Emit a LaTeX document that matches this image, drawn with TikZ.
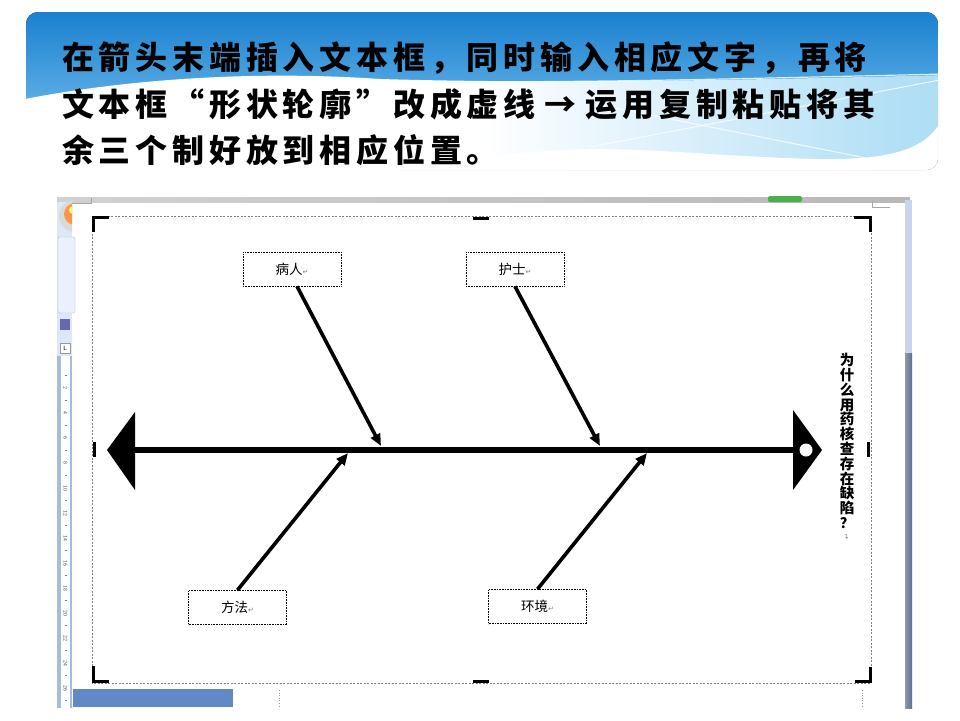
\documentclass[tikz,border=0pt]{standalone}
\usepackage{fontspec}
\newfontfamily\cjk{Noto Sans CJK SC}
\newfontfamily\cjktitle[LetterSpace=15]{Noto Sans CJK SC}
\newfontfamily\symfont{DejaVu Sans}
\usetikzlibrary{arrows.meta}
\definecolor{bannerTop}{HTML}{1A80D0}
\definecolor{bannerBot}{HTML}{8DD0F3}
\definecolor{waveA}{HTML}{B4E0F6}
\definecolor{waveB}{HTML}{7CC5EE}
\definecolor{ribbonBlue}{HTML}{DCE8F6}
\definecolor{ribbonEdge}{HTML}{A9C0DE}
\definecolor{rulerEdge}{HTML}{A3BCE0}
\definecolor{sidePanel}{HTML}{C6D6EC}
\definecolor{scrollDark}{HTML}{5E6E8C}
\definecolor{statusBlue}{HTML}{6089C6}
\pgfdeclarehorizontalshading{waveshade}{100bp}{color(0bp)=(white); color(50bp)=(white); color(72bp)=(waveA); color(100bp)=(waveB)}
\newcommand\retmark{\textcolor{gray}{\symfont\fontsize{7}{7}\selectfont ↵}}
\newcommand\titleA{在箭头末端插入文本框，同时输入相应文字，再将}
\newcommand\titleB{文本框“形状轮廓”改成虚线\hspace{9pt}→\hspace{9pt}运用复制粘贴将其}
\newcommand\titleC{余三个制好放到相应位置。}
\begin{document}
\begin{tikzpicture}[x=1pt,y=-1pt,
  titletext/.style={anchor=west, inner sep=0pt, font=\cjktitle\bfseries\fontsize{32}{36}\selectfont},
  labelbox/.style={draw=black, line width=0.8pt, dash pattern=on 0.8pt off 0.8pt,
    minimum width=98pt, minimum height=34pt, inner sep=0pt,
    font=\cjk\fontsize{13.5}{13.5}\selectfont},
  bone/.style={line width=3.6pt, -{Triangle[length=12pt,width=10pt]}},
  spine/.style={line width=5.5pt},
  handle/.style={line width=3pt},
  canvasline/.style={draw=gray, line width=0.6pt, dash pattern=on 2pt off 1.5pt},
  vlabel/.style={align=center, inner sep=0pt, font=\cjk\bfseries\fontsize{14.5}{14.8}\selectfont},
  rulernum/.style={font=\sffamily\fontsize{5.5}{5.5}\selectfont, text=black!70, rotate=-90, inner sep=0pt},
  waveline/.style={white, opacity=0.8, line width=1pt}
]
\useasboundingbox (0,0) rectangle (960,720);
\fill[white] (0,0) rectangle (960,720);

% ---------- banner ----------
\begin{scope}
  \clip[rounded corners=12pt] (26,12) rectangle (938,170);
  \fill[top color=bannerTop, bottom color=bannerBot] (26,12) rectangle (938,170);
  \shade[shading=waveshade]
    (20,100) .. controls (120,80) and (250,70) .. (380,79)
    .. controls (550,84) and (750,80) .. (945,75) -- (945,175) -- (20,175) -- cycle;
  \fill[white] (945,112) .. controls (932,150) and (890,160) .. (820,159)
    .. controls (720,157) and (640,146) .. (560,150)
    .. controls (500,154) and (440,164) .. (380,172) -- (380,175) -- (945,175) -- cycle;
  \draw[waveline, line width=1.2pt] (306,82) .. controls (600,82) .. (945,74);
  \draw[waveline] (590,147) -- (945,79);
  \draw[waveline] (600,105) -- (866,158);
\end{scope}
\fill[white] (20,164) rectangle (400,176);
\fill[white] (20,103) rectangle (27.5,176);

% title text
\node[titletext] (lineA) at (62,58) {\titleA};
\node[titletext] (lineB) at (62,104) {\titleB};
\node[titletext] (lineC) at (62,150) {\titleC};

% ---------- window screenshot ----------
\fill[left color=black!18, right color=black!28] (57,197) rectangle (910,202);
\fill[green!55!black!70, rounded corners=2pt] (768,196) rectangle (802,202);
% left ribbon column
\fill[ribbonBlue] (57,202) rectangle (72,356);
\begin{scope}
  \clip (57,196) rectangle (72,240);
  \fill[black!15] (75,216) circle (16);
  \fill[orange!80!red!70] (75,214) circle (11);
  \fill[yellow!60!white] (73,210) circle (4);
\end{scope}
\draw[ribbonEdge, fill=ribbonBlue!60!white, rounded corners=2pt] (58,237) rectangle (75,313);
\fill[blue!50!black!60] (60,319) rectangle (70,330);
\draw[black!40, fill=white] (60,343) rectangle (70,353);
\node[font=\sffamily\fontsize{6}{6}\selectfont, inner sep=0pt] at (65,348) {L};
% ruler
\fill[rulerEdge] (57,356) rectangle (72,708);
\fill[white] (61,356) rectangle (70,708);
\foreach \n [count=\i] in {2,4,6,8,10,12,14,16,18,20,22,24,26}{
  \node[rulernum] at (65.5,363+25*\i) {\n};
  \draw[black!50, line width=0.4pt] (64.5,375.5+25*\i) -- (66.5,375.5+25*\i);
}
\draw[black!50, line width=0.4pt] (64.5,375) -- (66.5,375);
% right side
\fill[sidePanel] (905,200) rectangle (912,353);
\fill[left color=scrollDark!70, right color=scrollDark] (905,353) rectangle (912,708);
% status bar and markers
\fill[statusBlue] (73,689) rectangle (233,707);
\draw[black!40, dotted, line width=0.6pt] (279,690) -- (279,707);
\draw[black!40, dotted, line width=0.6pt] (862,690) -- (862,707);
\draw[black!35, line width=0.5pt] (72,203) -- (91,203) -- (91,198);
\draw[black!35, line width=0.5pt] (872,201) -- (872,207) -- (890,207);

% ---------- drawing canvas ----------
\draw[canvasline] (92,216) rectangle (871,683);
\draw[handle] (93,232) -- (93,217.5) -- (109,217.5);
\draw[handle] (854,217.5) -- (870,217.5) -- (870,232);
\draw[handle] (93,666) -- (93,681.5) -- (109,681.5);
\draw[handle] (855,681.5) -- (870,681.5) -- (870,667);
\draw[handle] (473,218) -- (489,218);
\draw[handle] (473,681) -- (489,681);
\draw[handle] (94,442) -- (94,457);
\draw[handle] (868,442) -- (868,457);

% ---------- fishbone ----------
\coordinate (tailL) at (130,450);
\coordinate (headR) at (800,450);
\draw[spine] (tailL) -- (headR);
\fill (107,450) -- (135,412) -- (135,490) -- cycle;
\fill (793,410) -- (822,450) -- (793,490) -- cycle;
\fill[white] (806,450) circle (6.5);

\node[labelbox] (patient) at (292,269) {病人\retmark};
\node[labelbox] (nurse) at (515,269) {护士\retmark};
\node[labelbox] (method) at (237.5,607.5) {方法\retmark};
\node[labelbox] (env) at (537.5,606.5) {环境\retmark};

\coordinate (b1) at (381,446);
\coordinate (b2) at (600,446);
\coordinate (b3) at (348,453);
\coordinate (b4) at (647,453);
\draw[bone] ([xshift=5pt]patient.south) -- (b1);
\draw[bone] (nurse.south) -- (b2);
\draw[bone] (method.north) -- (b3);
\draw[bone] (env.north) -- (b4);

\node[vlabel] (question) at (847,441) {为\\什\\么\\用\\药\\核\\查\\存\\在\\缺\\陷\\？};
\node[inner sep=0pt, rotate=90, text=gray, font=\symfont\fontsize{7}{7}\selectfont] (qret) at (847,537) {↵};
\end{tikzpicture}
\end{document}
